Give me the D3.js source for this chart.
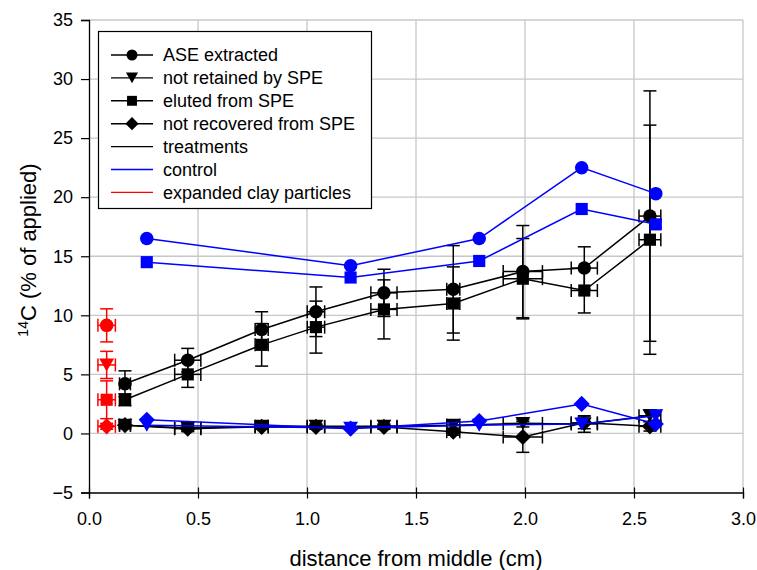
<!DOCTYPE html>
<html>
<head>
<meta charset="utf-8">
<script src="https://cdn.jsdelivr.net/npm/d3@7"></script>
<style>
  body { margin: 0; background: #fff; }
  svg { display: block; font-family: "Liberation Sans", Arial, sans-serif; }
</style>
</head>
<body>
<svg id="chart" width="757" height="570"></svg>
<script>
// ---------- data ----------
const xTicks = [0.0, 0.5, 1.0, 1.5, 2.0, 2.5, 3.0];
const yTicks = [-5, 0, 5, 10, 15, 20, 25, 30, 35];

// treatments (black)
const xTreat      = [0.165, 0.453, 0.792, 1.041, 1.353, 1.671, 1.99, 2.272, 2.573];
const xTreatErr   = [0.025, 0.06, 0.03, 0.04, 0.06, 0.03, 0.09, 0.06, 0.05];
const aseTreat    = [4.2, 6.2, 8.8, 10.3, 11.9, 12.2, 13.7, 14.0, 18.4];
const aseTreatErr = [1.1, 1.0, 1.5, 2.1, 2.0, 3.7, 3.9, 1.8, 10.6];
const eluTreat    = [2.85, 5.0, 7.5, 9.0, 10.5, 11.0, 13.1, 12.1, 16.4];
const eluTreatErr = [0.5, 1.1, 1.8, 2.2, 2.5, 3.1, 3.4, 1.9, 9.7];
const nrtTreat    = [0.7, 0.45, 0.6, 0.6, 0.6, 0.7, 0.85, 0.8, 1.5];
const nrtTreatErr = [0.3, 0.3, 0.2, 0.2, 0.2, 0.3, 0.3, 0.7, 0.5];
const nrcTreat    = [0.7, 0.4, 0.55, 0.55, 0.55, 0.15, -0.3, 0.9, 0.6];
const nrcTreatErr = [0.2, 0.2, 0.2, 0.2, 0.2, 0.3, 1.3, 0.5, 0.4];

// control (blue)
const xCtrl   = [0.265, 1.2, 1.79, 2.26, 2.6];
const aseCtrl = [16.5, 14.2, 16.5, 22.5, 20.3];
const eluCtrl = [14.5, 13.2, 14.6, 19.0, 17.7];
const nrtCtrl = [0.7, 0.45, 0.7, 0.8, 1.5];
const nrcCtrl = [1.15, 0.4, 1.05, 2.5, 0.8];

// expanded clay particles (red)
const xClay = [0.081];
const xClayErr = [0.04];
const aseClay = [9.15], aseClayErr = [1.4];
const nrtClay = [5.8],  nrtClayErr = [1.15];
const eluClay = [2.85], eluClayErr = [1.6];
const nrcClay = [0.6],  nrcClayErr = [0.25];

const legendItems = [
  {label: "ASE extracted", sym: "circle", color: "#000000"},
  {label: "not retained by SPE", sym: "triangle", color: "#000000"},
  {label: "eluted from SPE", sym: "square", color: "#000000"},
  {label: "not recovered from SPE", sym: "diamond", color: "#000000"},
  {label: "treatments", sym: null, color: "#000000"},
  {label: "control", sym: null, color: "#0000ff"},
  {label: "expanded clay particles", sym: null, color: "#ff0000"}
];

// ---------- layout ----------
const svg = d3.select("#chart");
const x = d3.scaleLinear().domain([0, 3]).range([89, 743]);
const y = d3.scaleLinear().domain([-5, 35]).range([492.5, 20]);

function markerPath(type, s) {
  const p = d3.path();
  if (type === "circle") { p.arc(0, 0, s * 0.5, 0, 2 * Math.PI); }
  else if (type === "square") { const h = s * 0.45; p.rect(-h, -h, 2 * h, 2 * h); }
  else if (type === "triangle") { const w = s * 0.55, h = s * 0.48;
    p.moveTo(-w, -h); p.lineTo(w, -h); p.lineTo(0, h); p.closePath(); }
  else if (type === "diamond") { const h = s * 0.6;
    p.moveTo(0, -h); p.lineTo(h, 0); p.lineTo(0, h); p.lineTo(-h, 0); p.closePath(); }
  return p.toString();
}

// grid
const grid = svg.append("g");
grid.selectAll("line.gx").data(xTicks.slice(1)).join("line")
  .attr("x1", d => x(d)).attr("x2", d => x(d)).attr("y1", y(-5)).attr("y2", y(35))
  .attr("stroke", "#c8c8c8").attr("stroke-width", 1.3);
grid.selectAll("line.gy").data(yTicks.slice(1)).join("line")
  .attr("y1", d => y(d)).attr("y2", d => y(d)).attr("x1", x(0)).attr("x2", x(3))
  .attr("stroke", "#c8c8c8").attr("stroke-width", 1.3);

// series drawing
function drawSeries(xs, ys, xe, ye, sym, color, connect) {
  const g = svg.append("g");
  const pts = xs.map((v, i) => ({x: v, y: ys[i], xe: xe ? xe[i] : 0, ye: ye ? ye[i] : 0}));
  if (connect) {
    g.append("path").datum(pts)
      .attr("d", d3.line().x(d => x(d.x)).y(d => y(d.y)))
      .attr("fill", "none").attr("stroke", color).attr("stroke-width", 1.5);
  }
  const cap = 6.5;
  pts.forEach(d => {
    if (d.ye) {
      g.append("line").attr("x1", x(d.x)).attr("x2", x(d.x))
        .attr("y1", y(d.y - d.ye)).attr("y2", y(d.y + d.ye))
        .attr("stroke", color).attr("stroke-width", 1.5);
      [d.y - d.ye, d.y + d.ye].forEach(v => g.append("line")
        .attr("x1", x(d.x) - cap).attr("x2", x(d.x) + cap)
        .attr("y1", y(v)).attr("y2", y(v)).attr("stroke", color).attr("stroke-width", 1.5));
    }
    if (d.xe) {
      g.append("line").attr("y1", y(d.y)).attr("y2", y(d.y))
        .attr("x1", x(d.x - d.xe)).attr("x2", x(d.x + d.xe))
        .attr("stroke", color).attr("stroke-width", 1.5);
      [d.x - d.xe, d.x + d.xe].forEach(v => g.append("line")
        .attr("y1", y(d.y) - cap).attr("y2", y(d.y) + cap)
        .attr("x1", x(v)).attr("x2", x(v)).attr("stroke", color).attr("stroke-width", 1.5));
    }
  });
  g.selectAll("path.m").data(pts).join("path").attr("class", "m")
    .attr("transform", d => `translate(${x(d.x)},${y(d.y)})`)
    .attr("d", markerPath(sym, 13.5)).attr("fill", color);
}

// treatments
drawSeries(xTreat, nrcTreat, xTreatErr, nrcTreatErr, "diamond", "#000", true);
drawSeries(xTreat, nrtTreat, xTreatErr, nrtTreatErr, "triangle", "#000", true);
drawSeries(xTreat, eluTreat, xTreatErr, eluTreatErr, "square", "#000", true);
drawSeries(xTreat, aseTreat, xTreatErr, aseTreatErr, "circle", "#000", true);
// control
drawSeries(xCtrl, nrtCtrl, null, null, "triangle", "#0000ff", true);
drawSeries(xCtrl, nrcCtrl, null, null, "diamond", "#0000ff", true);
drawSeries(xCtrl, eluCtrl, null, null, "square", "#0000ff", true);
drawSeries(xCtrl, aseCtrl, null, null, "circle", "#0000ff", true);
// clay
drawSeries(xClay, nrcClay, xClayErr, nrcClayErr, "diamond", "#ff0000", false);
drawSeries(xClay, eluClay, xClayErr, eluClayErr, "square", "#ff0000", false);
drawSeries(xClay, nrtClay, xClayErr, nrtClayErr, "triangle", "#ff0000", false);
drawSeries(xClay, aseClay, xClayErr, aseClayErr, "circle", "#ff0000", false);

// axes
const xAxis = svg.append("g").attr("transform", `translate(0,${y(-5)})`)
  .call(d3.axisBottom(x).tickValues(xTicks).tickFormat(d3.format(".1f")).tickSize(6).tickPadding(14));
xAxis.selectAll(".tick line").attr("y1", -5).attr("stroke-width", 1.2);
const yAxis = svg.append("g").attr("transform", `translate(${x(0)},0)`)
  .call(d3.axisLeft(y).tickValues(yTicks).tickFormat(d3.format("d")).tickSize(8).tickPadding(8));
yAxis.selectAll(".tick line").attr("stroke-width", 1.2);
[xAxis, yAxis].forEach(a => {
  a.select(".domain").attr("stroke", "#000").attr("stroke-width", 1.3);
  a.selectAll("text").attr("font-size", 18).attr("fill", "#000")
    .attr("font-family", "'Liberation Sans', Arial, sans-serif");
});

// axis titles
svg.append("text").attr("x", 416).attr("y", 566).attr("text-anchor", "middle")
  .attr("font-size", 22).text("distance from middle (cm)");
const yt = svg.append("text").attr("transform", "translate(36,250) rotate(-90)")
  .attr("text-anchor", "middle").attr("font-size", 22);
yt.append("tspan").attr("font-size", 14).attr("dy", -8).text("14");
yt.append("tspan").attr("dy", 8).text("C (% of applied)");

// legend
const lg = svg.append("g");
lg.append("rect").attr("x", 98.5).attr("y", 31.5).attr("width", 273).attr("height", 177)
  .attr("fill", "#fff").attr("stroke", "#000").attr("stroke-width", 1.2);
legendItems.forEach((it, i) => {
  const cy = 55 + i * 22.9;
  lg.append("line").attr("x1", 111).attr("x2", 153).attr("y1", cy).attr("y2", cy)
    .attr("stroke", it.color).attr("stroke-width", 1.4);
  if (it.sym) lg.append("path").attr("transform", `translate(132,${cy})`)
    .attr("d", markerPath(it.sym, 11)).attr("fill", it.color);
  lg.append("text").attr("x", 163).attr("y", cy).attr("dy", "0.36em")
    .attr("font-size", 18).text(it.label);
});
</script>
</body>
</html>
